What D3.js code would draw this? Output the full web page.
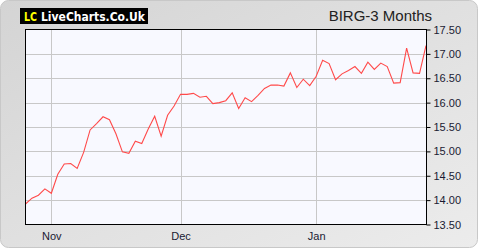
<!DOCTYPE html>
<html>
<head>
<meta charset="utf-8">
<script src="https://cdn.jsdelivr.net/npm/d3@7"></script>
<style>
  html, body { margin: 0; padding: 0; background: #fff; }
  svg { display: block; }
</style>
</head>
<body>
<div id="chart"></div>
<script>
// closing prices, one per trading day (late Oct to late Jan)
const prices = [
  13.92, 14.04, 14.10, 14.23, 14.14, 14.53, 14.74, 14.75, 14.65, 14.98,
  15.44, 15.57, 15.71, 15.65, 15.36, 14.99, 14.96, 15.21, 15.16, 15.46,
  15.72, 15.31, 15.74, 15.93, 16.17, 16.17, 16.19, 16.11, 16.13, 15.98,
  16.00, 16.04, 16.20, 15.88, 16.10, 16.02, 16.15, 16.29, 16.36, 16.36,
  16.34, 16.61, 16.31, 16.48, 16.35, 16.54, 16.87, 16.80, 16.47, 16.59,
  16.66, 16.74, 16.60, 16.83, 16.68, 16.81, 16.74, 16.40, 16.41, 17.12,
  16.61, 16.60, 17.17
];
// month labels and the trading-day index where each month starts
const monthLabels = ['Nov', 'Dec', 'Jan'];
const monthIndex = [4, 24, 45];
const yTicks = [13.5, 14, 14.5, 15, 15.5, 16, 16.5, 17, 17.5];
const title = 'BIRG-3 Months';

const W = 480, H = 250;
const plot = { left: 25.5, right: 426.5, top: 29.5, bottom: 224.5 };

const svg = d3.select('#chart').append('svg')
  .attr('width', W)
  .attr('height', H);

// panel background
const defs = svg.append('defs');
const grad = defs.append('linearGradient')
  .attr('id', 'bg')
  .attr('x1', '0').attr('y1', '0').attr('x2', '1').attr('y2', '1');
grad.append('stop').attr('offset', '0%').attr('stop-color', '#d4d4d4');
grad.append('stop').attr('offset', '100%').attr('stop-color', '#ececec');

svg.append('rect')
  .attr('x', 0.5).attr('y', 0.5)
  .attr('width', W - 3).attr('height', H - 3)
  .attr('rx', 8).attr('ry', 8)
  .attr('fill', 'url(#bg)')
  .attr('stroke', '#c8c8c8');

// scales
const x = d3.scaleLinear()
  .domain([0, prices.length - 1])
  .range([plot.left, plot.right - 0.5]);
const y = d3.scaleLinear()
  .domain([13.5, 17.5])
  .range([plot.bottom, plot.top]);

// plot area
svg.append('rect')
  .attr('x', plot.left).attr('y', plot.top)
  .attr('width', plot.right - plot.left)
  .attr('height', plot.bottom - plot.top)
  .attr('fill', '#f8f9ff');

// grid lines
svg.append('g')
  .selectAll('line.h')
  .data(yTicks.slice(1, -1))
  .join('line')
  .attr('x1', plot.left).attr('x2', plot.right)
  .attr('y1', d => Math.round(y(d)) + 0.5)
  .attr('y2', d => Math.round(y(d)) + 0.5)
  .attr('stroke', '#c8c8c8');

svg.append('g')
  .selectAll('line.v')
  .data(monthIndex)
  .join('line')
  .attr('x1', d => Math.round(x(d)) + 0.5)
  .attr('x2', d => Math.round(x(d)) + 0.5)
  .attr('y1', plot.top).attr('y2', plot.bottom)
  .attr('stroke', '#c8c8c8');

// price line
const line = d3.line()
  .x((d, i) => x(i))
  .y(d => y(d));

svg.append('path')
  .datum(prices)
  .attr('d', line)
  .attr('fill', 'none')
  .attr('stroke', '#ff4a4a')
  .attr('stroke-width', 1.1);

// frame
svg.append('rect')
  .attr('x', plot.left).attr('y', plot.top)
  .attr('width', plot.right - plot.left)
  .attr('height', plot.bottom - plot.top)
  .attr('fill', 'none')
  .attr('stroke', '#000');

// right axis
const yAxis = d3.axisRight(y)
  .tickValues(yTicks)
  .tickFormat(d3.format('.2f'))
  .tickSize(4)
  .tickPadding(3);

const ya = svg.append('g')
  .attr('transform', `translate(${plot.right},0)`)
  .call(yAxis);
ya.select('.domain').remove();
ya.selectAll('line').attr('stroke', '#000');
ya.selectAll('text')
  .attr('fill', '#1a1a33')
  .style('font', '11px "Liberation Sans", Arial, sans-serif');

// bottom labels
const xAxis = d3.axisBottom(x)
  .tickValues(monthIndex)
  .tickFormat((d, i) => monthLabels[i])
  .tickSize(0)
  .tickPadding(8);

const xa = svg.append('g')
  .attr('transform', `translate(0,${plot.bottom})`)
  .call(xAxis);
xa.select('.domain').remove();
xa.selectAll('text')
  .attr('fill', '#1a1a33')
  .style('font', '11px "Liberation Sans", Arial, sans-serif');

// logo
const logo = svg.append('g');
logo.append('rect')
  .attr('x', 20).attr('y', 8)
  .attr('width', 128).attr('height', 16)
  .attr('fill', '#000');
logo.append('text')
  .attr('x', 24).attr('y', 20.5)
  .attr('fill', '#ffff00')
  .attr('textLength', 13)
  .attr('lengthAdjust', 'spacingAndGlyphs')
  .style('font', 'bold 12px "DejaVu Sans", Verdana, sans-serif')
  .text('LC');
logo.append('text')
  .attr('x', 41).attr('y', 20.5)
  .attr('fill', '#fff')
  .attr('textLength', 104)
  .attr('lengthAdjust', 'spacingAndGlyphs')
  .style('font', 'bold 12px "DejaVu Sans", Verdana, sans-serif')
  .text('LiveCharts.Co.Uk');

// title
svg.append('text')
  .attr('x', 432).attr('y', 21)
  .attr('text-anchor', 'end')
  .attr('fill', '#222')
  .style('font', '15px "Liberation Sans", Arial, sans-serif')
  .text(title);
</script>
</body>
</html>
